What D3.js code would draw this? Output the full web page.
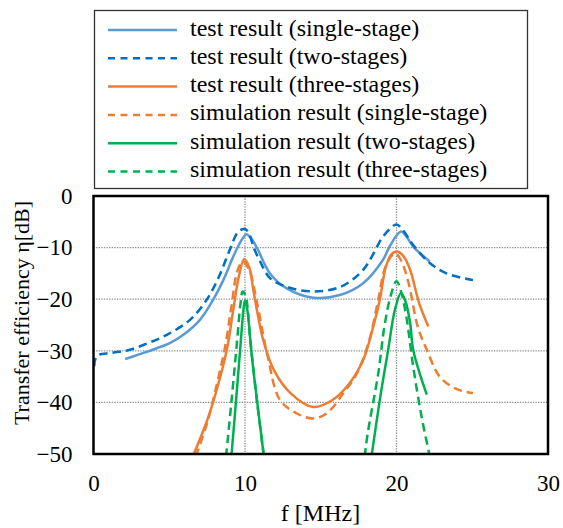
<!DOCTYPE html>
<html>
<head>
<meta charset="utf-8">
<script src="https://cdn.jsdelivr.net/npm/d3@7"></script>
<style>
  body { margin: 0; background: #fff; }
  svg { display: block; }
</style>
</head>
<body>
<div id="chart"></div>
<script>
  // frequencies [MHz] and efficiencies [dB]
  // null marks a break in the line
  let testSingleF = [2.09, 3, 4.18, 5.1, 5.93, 7.03, 7.9, 8.57, 9.23, 9.78, 10.1, 10.4, 10.8, 11.65, 12.75, 14.5, 16.26, 17.8, 19.1, 19.6, 20.3, 20.66, 21.1, 22.2]
  let testSingleDb = [-31.6, -30.7, -29.5, -28.4, -26.9, -24, -20.1, -16.3, -11.7, -8.5, -7.4, -8.2, -10.1, -15, -17.9, -19.7, -19.2, -16.9, -12.4, -9.5, -6.9, -7.9, -9.8, -12.7]

  let testTwoF = [0.05, 0.22, 1.2, 2.4, 3.6, 4.84, 6.37, 7.47, 8.24, 9.0, 9.56, 10.0, 10.3, 10.55, 11.0, 11.65, 12.75, 14.5, 16.3, 17.8, 19.1, 19.6, 20.0, 20.4, 21.1, 22.2, 23.3, 25.05]
  let testTwoDb = [-33, -31, -30.4, -29.8, -28.5, -26.9, -24, -20.1, -15.9, -10.4, -6.9, -6.4, -7.5, -9.8, -12.7, -15.9, -17.6, -18.5, -17.6, -14.3, -7.9, -6.3, -5.5, -6.5, -9.5, -13, -15, -16.3]

  let testThreeF = [6.55, 7.5, 8.13, 8.8, 9.23, 9.6, 9.95, 10.3, 10.55, 11.2, 11.9, 13, 14.5, 15.8, 16.9, 17.8, 18.35, 18.9, 19.3, 19.7, 20.1, 20.5, 20.9, 21.5, 22.1]
  let testThreeDb = [-50.5, -43.5, -37.6, -29.8, -22, -15.5, -12.2, -14, -18.2, -27.9, -33.7, -38.2, -40.9, -39.5, -36.3, -31.8, -26.6, -20.1, -13.7, -11.2, -10.8, -11.8, -14.3, -20.8, -25.3]

  let simSingleF = [6.75, 7.5, 8.1, 8.7, 9.1, 9.5, 9.85, 10.3, 10.8, 11.5, 12.3, 13.4, 14.5, 15.4, 16.5, 17.4, 18.2, 18.8, 19.3, 19.9, 20.3, 20.8, 21.4, 22.0, 22.85, 23.95, 25.05]
  let simSingleDb = [-50.5, -44, -37, -29, -21.5, -14.5, -12.7, -14.5, -20.8, -31.1, -39.5, -42.1, -43.1, -42.1, -38.2, -34.3, -28, -20, -13.5, -11.1, -12.5, -16.9, -25.3, -29.8, -35, -37.4, -38.2]

  let simTwoF = [9.1, 9.4, 9.7, 9.9, 10.0, 10.15, 10.45, 10.85, 11.25, null, 18.35, 18.9, 19.45, 19.9, 20.3, 20.6, 20.9, 21.1, 21.6, 22.0]
  let simTwoDb = [-50.5, -40, -29, -22, -20.2, -22, -31, -41, -50.5, null, -50.5, -39.5, -29.8, -22, -18.8, -20.5, -24.6, -29.8, -35, -38.5]

  let simThreeF = [8.75, 9.1, 9.45, 9.7, 9.85, 10.05, 10.35, 10.8, 11.25, null, 17.9, 18.1, 18.8, 19.2, 19.6, 20.0, 20.3, 20.65, 21.1, 21.65, 22.2]
  let simThreeDb = [-50.5, -40, -29, -21, -18.5, -19.5, -28, -40, -50.5, null, -50.5, -46, -34.3, -25.3, -19.5, -16.5, -18.5, -23.4, -33, -42.7, -50.5]

  let seriesNames = [
    'test result (single-stage)',
    'test result (two-stages)',
    'test result (three-stages)',
    'simulation result (single-stage)',
    'simulation result (two-stages)',
    'simulation result (three-stages)'
  ]
  let seriesColors = ['#5B9BD5', '#0070C0', '#ED7D31', '#ED7D31', '#00B050', '#00B050']
  let seriesDashed = [false, true, false, true, false, true]

  let xTicks = [0, 10, 20, 30]
  let yTicks = [0, -10, -20, -30, -40, -50]

  let series = [
    [testSingleF, testSingleDb],
    [testTwoF, testTwoDb],
    [testThreeF, testThreeDb],
    [simSingleF, simSingleDb],
    [simTwoF, simTwoDb],
    [simThreeF, simThreeDb]
  ].map(function(pair, i){
    return {
      name: seriesNames[i],
      color: seriesColors[i],
      dashed: seriesDashed[i],
      points: pair[0].map(function(f, j){
        return f == null ? null : {f: f, db: pair[1][j]}
      })
    }
  })

  const FONT = '"Liberation Serif", "Times New Roman", serif'
  let width = 563, height = 528
  let plot = {left: 93.5, right: 548, top: 196, bottom: 454}

  let svg = d3.select('#chart').append('svg')
    .attr('width', width)
    .attr('height', height)

  svg.append('rect').attr('width', width).attr('height', height).attr('fill', '#fff')

  let x = d3.scaleLinear().domain([0, 30]).range([plot.left, plot.right])
  let y = d3.scaleLinear().domain([-50, 0]).range([plot.bottom, plot.top])

  // dotted grid
  let grid = svg.append('g')
  grid.selectAll('.hgrid')
    .data(yTicks.filter(function(t){ return t != 0 && t != -50 }))
    .enter().append('line')
      .attr('x1', plot.left).attr('x2', plot.right)
      .attr('y1', function(d){ return y(d) }).attr('y2', function(d){ return y(d) })
      .attr('stroke', '#8c8c8c').attr('stroke-width', 1.3).attr('stroke-dasharray', '1.3,1.3')
  grid.selectAll('.vgrid')
    .data(xTicks.filter(function(t){ return t != 0 && t != 30 }))
    .enter().append('line')
      .attr('y1', plot.top).attr('y2', plot.bottom)
      .attr('x1', function(d){ return x(d) }).attr('x2', function(d){ return x(d) })
      .attr('stroke', '#8c8c8c').attr('stroke-width', 1.3).attr('stroke-dasharray', '1.3,1.3')

  svg.append('clipPath').attr('id', 'clip')
    .append('rect')
      .attr('x', plot.left).attr('y', plot.top)
      .attr('width', plot.right - plot.left).attr('height', plot.bottom - plot.top)

  let line = d3.line()
    .defined(function(d){ return d != null })
    .x(function(d){ return x(d.f) })
    .y(function(d){ return y(d.db) })
    .curve(d3.curveCatmullRom.alpha(0.5))

  svg.append('g').attr('clip-path', 'url(#clip)')
    .selectAll('path')
    .data(series)
    .enter().append('path')
      .attr('d', function(d){ return line(d.points) })
      .attr('fill', 'none')
      .attr('stroke', function(d){ return d.color })
      .attr('stroke-width', 2.5)
      .attr('stroke-dasharray', function(d){ return d.dashed ? '8.5,5' : null })

  // frame
  svg.append('rect')
    .attr('x', plot.left).attr('y', plot.top)
    .attr('width', plot.right - plot.left).attr('height', plot.bottom - plot.top)
    .attr('fill', 'none').attr('stroke', '#000').attr('stroke-width', 2.5)

  // axes
  let yAxis = d3.axisLeft(y).tickValues(yTicks).tickSize(0).tickPadding(21)
  svg.append('g').attr('transform', `translate(${plot.left},0)`).call(yAxis)
    .call(function(g){ g.select('.domain').remove() })
    .selectAll('text').attr('font-size', 23).style('font-family', FONT).attr('fill', '#000')

  let xAxis = d3.axisBottom(x).tickValues(xTicks).tickSize(0).tickPadding(21)
  svg.append('g').attr('transform', `translate(0,${plot.bottom})`).call(xAxis)
    .call(function(g){ g.select('.domain').remove() })
    .selectAll('text').attr('font-size', 23).style('font-family', FONT).attr('fill', '#000')

  svg.append('text')
    .attr('x', 320.5).attr('y', 521)
    .attr('text-anchor', 'middle').attr('font-size', 24).style('font-family', FONT)
    .text('f [MHz]')

  svg.append('text')
    .attr('transform', 'translate(29,313) rotate(-90)')
    .attr('text-anchor', 'middle').attr('font-size', 22).style('font-family', FONT)
    .text('Transfer efficiency η[dB]')

  // legend
  let legend = svg.append('g')
  legend.append('rect')
    .attr('x', 94.5).attr('y', 10.5).attr('width', 433).attr('height', 178)
    .attr('fill', '#fff').attr('stroke', '#333').attr('stroke-width', 1.3)

  let rows = legend.selectAll('.row')
    .data(series)
    .enter().append('g')
      .attr('transform', function(d, i){ return `translate(0,${35.5 + i * 28.3})` })

  let labels = rows.append('text')
    .attr('x', 190).attr('y', 0).attr('font-size', 24).style('font-family', FONT)
    .text(function(d){ return d.name })

  // white box behind each label (the last one hides part of the frame)
  labels.each(function(){
    let w = this.getComputedTextLength()
    d3.select(this.parentNode).insert('rect', 'text')
      .attr('x', 182).attr('y', -22).attr('width', w + 16).attr('height', 32)
      .attr('fill', '#fff')
  })

  rows.append('line')
    .attr('x1', 108).attr('x2', 177).attr('y1', -5.5).attr('y2', -5.5)
    .attr('stroke', function(d){ return d.color })
    .attr('stroke-width', 2.5)
    .attr('stroke-dasharray', function(d){ return d.dashed ? '7,5.5' : null })
</script>
</body>
</html>
